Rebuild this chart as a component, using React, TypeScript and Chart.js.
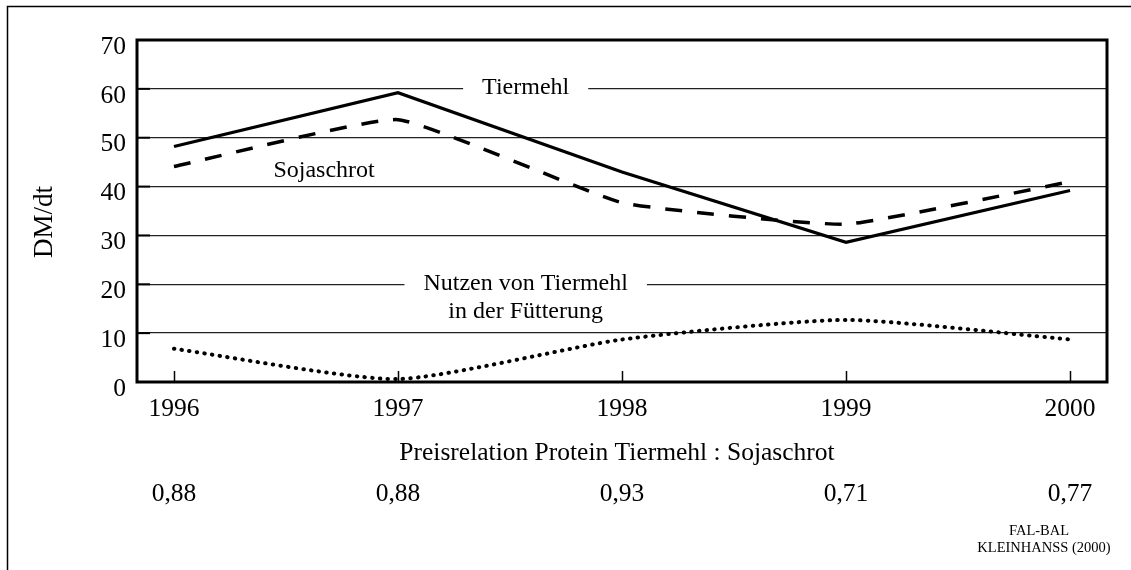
import { useEffect, useRef } from "react";
import { Chart, registerables } from "chart.js";

Chart.register(...registerables);

// ---- data ----
const years = [1996, 1997, 1998, 1999, 2000];
const tiermehl = [48.2, 59.2, 43.0, 28.6, 39.2];
const sojaschrot = [44.1, 53.7, 36.7, 32.3, 41.0];
const nutzen = [6.8, 0.6, 8.7, 12.7, 8.7];
const ratioLabels = ["0,88", "0,88", "0,93", "0,71", "0,77"];
const yTickValues = [0, 10, 20, 30, 40, 50, 60, 70];
const yTitle = "DM/dt";
const ratioTitle = "Preisrelation Protein Tiermehl : Sojaschrot";
const sourceLines = ["FAL-BAL", "KLEINHANSS (2000)"];

const SERIF = "'Liberation Serif', 'Times New Roman', serif";

// in-plot labels (data coordinates)
const gapLabels = [
  { lines: ["Tiermehl"], x: 1997.57, y: 60, gap: true },
  { lines: ["Nutzen von Tiermehl", "in der Fütterung"], x: 1997.57, y: 20, gap: true },
  { lines: ["Sojaschrot"], x: 1996.67, y: 43.1, gap: false },
];

const decorPlugin = {
  id: "decor",
  beforeDatasetsDraw(chart: any) {
    const { ctx, scales } = chart;
    const x = scales.x;
    const y = scales.y;
    ctx.save();
    ctx.font = `24px ${SERIF}`;
    ctx.fillStyle = "#ffffff";
    for (const g of gapLabels) {
      if (!g.gap) continue;
      const w = ctx.measureText(g.lines[0]).width;
      const cx = x.getPixelForValue(g.x);
      const cy = y.getPixelForValue(g.y);
      ctx.fillRect(cx - w / 2 - 19, cy - 3, w + 38, 6);
    }
    ctx.restore();
  },
  afterDatasetsDraw(chart: any) {
    const { ctx, scales, chartArea: ca } = chart;
    const x = scales.x;
    const y = scales.y;
    ctx.save();
    // in-plot labels
    ctx.font = `24px ${SERIF}`;
    ctx.fillStyle = "#000";
    ctx.textAlign = "center";
    ctx.textBaseline = "middle";
    for (const g of gapLabels) {
      const cx = x.getPixelForValue(g.x);
      const cy = y.getPixelForValue(g.y);
      g.lines.forEach((t, i) => ctx.fillText(t, cx, cy - 1 + i * 28));
    }
    // plot border
    ctx.strokeStyle = "#000";
    ctx.lineWidth = 3;
    ctx.strokeRect(ca.left, ca.top, ca.right - ca.left, ca.bottom - ca.top);
    // inner ticks bottom
    ctx.lineWidth = 1.5;
    for (const yr of years) {
      const px = Math.round(x.getPixelForValue(yr)) + 0.5;
      ctx.beginPath();
      ctx.moveTo(px, ca.bottom);
      ctx.lineTo(px, ca.bottom - 11);
      ctx.stroke();
    }
    // inner ticks left
    ctx.lineWidth = 2;
    for (const v of yTickValues.slice(1, -1)) {
      const py = y.getPixelForValue(v);
      ctx.beginPath();
      ctx.moveTo(ca.left, py);
      ctx.lineTo(ca.left + 13, py);
      ctx.stroke();
    }
    ctx.restore();
  },
  afterDraw(chart: any) {
    const { ctx, scales } = chart;
    const x = scales.x;
    ctx.save();
    // outer frame (extends past right/bottom)
    ctx.strokeStyle = "#000";
    ctx.lineWidth = 1.5;
    ctx.beginPath();
    ctx.moveTo(7.5, 1200);
    ctx.lineTo(7.5, 6.5);
    ctx.lineTo(1200, 6.5);
    ctx.stroke();
    ctx.fillStyle = "#000";
    ctx.textAlign = "center";
    ctx.textBaseline = "middle";
    // y title
    ctx.save();
    ctx.translate(45, 222);
    ctx.rotate(-Math.PI / 2);
    ctx.font = `27px ${SERIF}`;
    ctx.fillText(yTitle, 0, 0);
    ctx.restore();
    // ratio title and values
    ctx.font = `25.5px ${SERIF}`;
    ctx.fillText(ratioTitle, 617, 453);
    ratioLabels.forEach((t, i) => ctx.fillText(t, x.getPixelForValue(years[i]), 494));
    // source
    ctx.font = `14.5px ${SERIF}`;
    ctx.fillText(sourceLines[0], 1039, 531);
    ctx.fillText(sourceLines[1], 1044, 548);
    ctx.restore();
  },
};

export default function App() {
  const ref = useRef<HTMLCanvasElement | null>(null);
  useEffect(() => {
    if (!ref.current) return;
    const chart = new Chart(ref.current, {
      type: "line",
      data: {
        datasets: [
          {
            label: "Tiermehl",
            data: years.map((yr, i) => ({ x: yr, y: tiermehl[i] })),
            borderColor: "#000",
            borderWidth: 3.2,
            pointRadius: 0,
            tension: 0,
            fill: false,
          },
          {
            label: "Sojaschrot",
            data: years.map((yr, i) => ({ x: yr, y: sojaschrot[i] })),
            borderColor: "#000",
            borderWidth: 3.5,
            borderDash: [17, 15],
            pointRadius: 0,
            tension: 0.12,
            fill: false,
          },
          {
            label: "Nutzen von Tiermehl in der Fütterung",
            data: years.map((yr, i) => ({ x: yr, y: nutzen[i] })),
            borderColor: "#000",
            borderWidth: 4,
            borderDash: [0.5, 7.2],
            borderCapStyle: "round",
            pointRadius: 0,
            tension: 0.2,
            fill: false,
          },
        ],
      },
      options: {
        animation: false,
        responsive: false,
        devicePixelRatio: 1,
        layout: { padding: { top: 40, right: 24, left: 0, bottom: 0 } },
        plugins: { legend: { display: false }, tooltip: { enabled: false } },
        scales: {
          x: {
            type: "linear",
            min: 1995.835,
            max: 2000.165,
            afterFit: (s: any) => {
              s.height = 188;
            },
            afterBuildTicks: (s: any) => {
              s.ticks = years.map((v) => ({ value: v }));
            },
            grid: { display: false, drawTicks: false },
            border: { display: false },
            ticks: {
              color: "#000",
              font: { family: SERIF, size: 25.5 },
              padding: 12,
              maxRotation: 0,
              autoSkip: false,
              callback: (v: any) => String(v),
            },
          },
          y: {
            min: 0,
            max: 70,
            afterFit: (s: any) => {
              s.width = 137;
            },
            afterBuildTicks: (s: any) => {
              s.ticks = yTickValues.map((v) => ({ value: v }));
            },
            grid: { color: "#222", lineWidth: 1.3, drawTicks: false },
            border: { display: false },
            ticks: {
              color: "#000",
              font: { family: SERIF, size: 25.5 },
              padding: 11,
              labelOffset: 7,
              callback: (v: any) => String(v),
            },
          },
        },
      },
      plugins: [decorPlugin],
    } as any);
    return () => chart.destroy();
  }, []);
  return (
    <div style={{ position: "fixed", left: 0, top: 0, width: 1131, height: 570, background: "#fff" }}>
      <canvas ref={ref} width={1131} height={570} style={{ display: "block" }} />
    </div>
  );
}
